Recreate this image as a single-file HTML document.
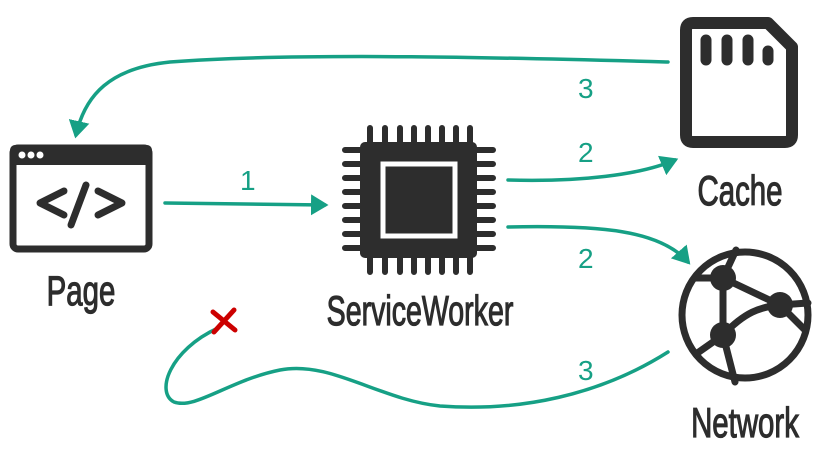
<!DOCTYPE html>
<html><head><style>html,body{margin:0;padding:0;background:#fff}svg{display:block}
text{font-family:"Liberation Sans Narrow","Liberation Sans",sans-serif;fill:#2d2d2d}</style></head>
<body>
<svg width="818" height="463" viewBox="0 0 818 463" xmlns="http://www.w3.org/2000/svg">
<defs><marker id="a" markerWidth="6" markerHeight="6" refX="4" refY="3" orient="auto" markerUnits="strokeWidth"><path d="M0,0 L5,3 L0,6 Z" fill="#16a085"/></marker></defs>
<g fill="none" stroke="#16a085" stroke-width="3.5" stroke-linecap="round">
<path d="M668,62 C520,58 300,52 170,62 C110,68 85,95 76,135" marker-end="url(#a)"/>
<path d="M165,203 L325,205" marker-end="url(#a)"/>
<path d="M508,180 C580,182 640,175 675,160" marker-end="url(#a)"/>
<path d="M508,227 C600,225 660,230 688,262" marker-end="url(#a)"/>
<path d="M668,352 C600,395 520,412 440,406 C380,400 330,360 280,370 C230,380 195,410 174,402 C155,392 170,350 218,328"/>
</g>
<g stroke="#cc0000" stroke-width="5" stroke-linecap="round"><line x1="213" y1="312" x2="235" y2="330"/><line x1="234" y1="310" x2="214" y2="332"/></g>
<g font-size="28">
<text x="240" y="190" style="fill:#16a085">1</text>
<text x="578" y="98" style="fill:#16a085">3</text>
<text x="578" y="162" style="fill:#16a085">2</text>
<text x="578" y="268" style="fill:#16a085">2</text>
<text x="578" y="380" style="fill:#16a085">3</text>
</g>
<!-- Page -->
<rect x="13" y="148" width="136" height="101" rx="5" fill="#fff" stroke="#2d2d2d" stroke-width="7"/>
<rect x="10" y="145" width="142" height="20" rx="5" fill="#2d2d2d"/>
<circle cx="22" cy="155" r="3.5" fill="#fff"/><circle cx="31" cy="155" r="3.5" fill="#fff"/><circle cx="40" cy="155" r="3.5" fill="#fff"/>
<g stroke="#2d2d2d" stroke-width="7" stroke-linecap="round" stroke-linejoin="round" fill="none">
<path d="M64,191 L40,203 L64,215"/><path d="M98,191 L122,203 L98,215"/><path d="M86,185 L71,225"/></g>
<g stroke="#2d2d2d" stroke-width="1.2">
<text x="81" y="305" font-size="42" text-anchor="middle" transform="translate(81,0) scale(0.7,1) translate(-81,0)">Page</text>
<text x="420" y="325" font-size="42" text-anchor="middle" transform="translate(420,0) scale(0.68,1) translate(-420,0)">ServiceWorker</text>
<text x="740" y="205" font-size="42" text-anchor="middle" transform="translate(740,0) scale(0.7,1) translate(-740,0)">Cache</text>
<text x="745" y="437" font-size="42" text-anchor="middle" transform="translate(745,0) scale(0.7,1) translate(-745,0)">Network</text>
</g>
<!-- Chip -->
<g stroke="#2d2d2d" stroke-width="6" stroke-linecap="round">
<path d="M370,128v20M385,128v20M400,128v20M414,128v20M428,128v20M442,128v20M456,128v20M470,128v20"/>
<path d="M370,252v20M385,252v20M400,252v20M414,252v20M428,252v20M442,252v20M456,252v20M470,252v20"/>
<path d="M345,150h20M345,164h20M345,178h20M345,192h20M345,206h20M345,220h20M345,234h20M345,248h20"/>
<path d="M473,150h20M473,164h20M473,178h20M473,192h20M473,206h20M473,220h20M473,234h20M473,248h20"/>
</g>
<rect x="360" y="142" width="117" height="116" rx="5" fill="#2d2d2d"/>
<rect x="383" y="164" width="72" height="72" fill="#2d2d2d" stroke="#fff" stroke-width="5"/>
<!-- Cache -->
<path d="M693,23 H768 L792,47 V135 Q792,142 785,142 H693 Q686,142 686,135 V30 Q686,23 693,23 Z" fill="#fff" stroke="#2d2d2d" stroke-width="12" stroke-linejoin="round"/>
<g stroke="#2d2d2d" stroke-width="11" stroke-linecap="round"><path d="M706,40v20M727,40v20M748,40v20M768,51v9"/></g>
<!-- Network -->
<g stroke="#2d2d2d" stroke-width="7" fill="none" stroke-linecap="round">
<circle cx="745" cy="315" r="63"/>
<path d="M696,278 H723 L736,250 M723,278 L780,305 L808,303 M780,305 L805,330 M723,278 L723,335 L735,382 M723,335 L696,354 M723,335 C745,312 760,307 780,305"/>
</g>
<circle cx="723" cy="278" r="13" fill="#2d2d2d"/><circle cx="780" cy="305" r="13" fill="#2d2d2d"/><circle cx="723" cy="335" r="13" fill="#2d2d2d"/>
</svg>
</body></html>
